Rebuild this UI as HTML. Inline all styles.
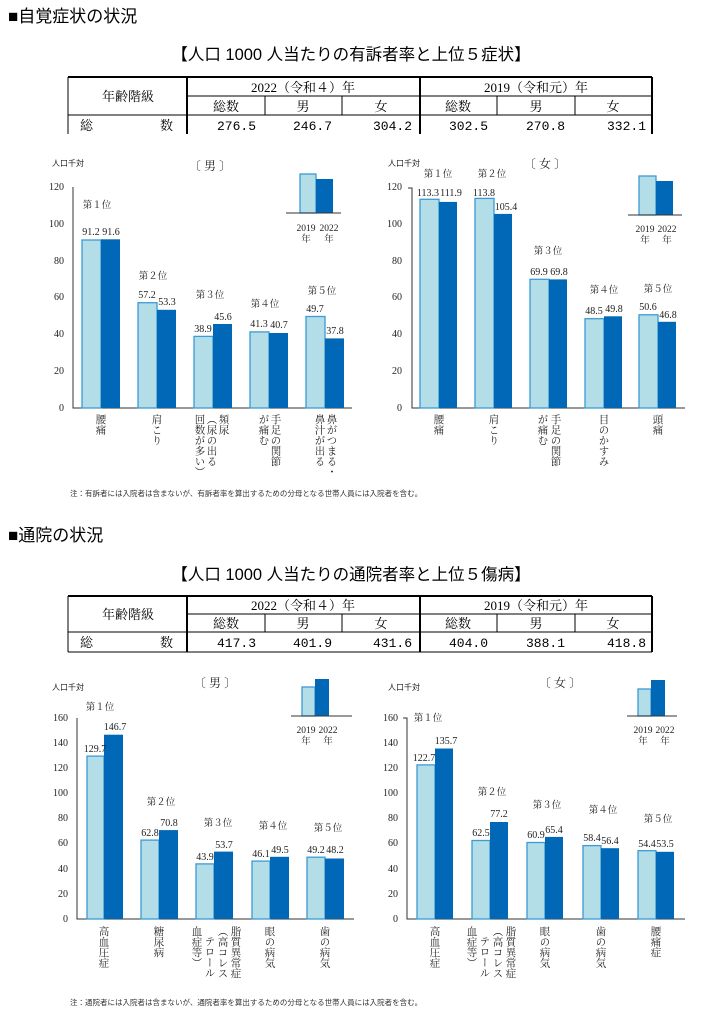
<!DOCTYPE html>
<html><head><meta charset="utf-8"><style>
html,body{margin:0;padding:0;background:#fff;}
svg{display:block;font-family:"Liberation Serif","Noto Serif CJK SC","Noto Sans CJK JP",serif;}
.h{font-family:"Liberation Sans","Noto Sans CJK JP",sans-serif;font-size:17px;fill:#000;}
.t{font-family:"Liberation Sans","Noto Sans CJK JP",sans-serif;font-size:16.5px;fill:#000;}
.tb{font-size:13px;fill:#000;}
.tn{font-family:"Liberation Mono",monospace;font-size:13px;fill:#000;}
.tk{font-size:10px;fill:#222;text-anchor:end;}
.v{font-size:10px;fill:#222;text-anchor:middle;}
.r{font-family:"Liberation Serif","Noto Serif CJK SC",serif;font-size:9.5px;fill:#222;text-anchor:middle;}
.s{font-family:"Noto Sans CJK JP",sans-serif;font-size:8px;fill:#222;}
.g{font-family:"Noto Serif CJK SC","Noto Sans CJK JP",serif;font-size:12px;fill:#222;text-anchor:middle;}
.c{font-family:"Noto Serif CJK SC","Noto Sans CJK JP",serif;font-size:10.5px;fill:#222;writing-mode:vertical-rl;}
.n{font-family:"Noto Sans CJK JP",sans-serif;font-size:7.5px;fill:#333;}
.l{fill:#b3dde7;stroke:#3b9bd6;stroke-width:1.3;}
.d{fill:#0068b7;}
.ax{stroke:#333;stroke-width:1;fill:none;}
.tl{stroke:#000;stroke-width:1;}
.tw{stroke:#000;stroke-width:2;}
</style></head><body>
<svg width="702" height="1024" viewBox="0 0 702 1024" xmlns="http://www.w3.org/2000/svg">
<text class="h" x="8" y="22">■自覚症状の状況</text>
<text class="t" x="351" y="60" text-anchor="middle">【人口 1000 人当たりの有訴者率と上位５症状】</text>
<line class="tw" x1="68" y1="77" x2="652" y2="77"/>
<line class="tl" x1="187" y1="96" x2="652" y2="96"/>
<line class="tl" x1="68" y1="115" x2="652" y2="115"/>
<line class="tl" x1="68" y1="77" x2="68" y2="134"/>
<line class="tw" x1="187" y1="77" x2="187" y2="134"/>
<line class="tl" x1="265" y1="96" x2="265" y2="115"/>
<line class="tl" x1="342" y1="96" x2="342" y2="115"/>
<line class="tw" x1="420" y1="77" x2="420" y2="134"/>
<line class="tl" x1="497" y1="96" x2="497" y2="115"/>
<line class="tl" x1="575" y1="96" x2="575" y2="115"/>
<line class="tw" x1="652" y1="77" x2="652" y2="134"/>
<text class="tb" x="128" y="101" text-anchor="middle">年齢階級</text>
<text class="tb" x="303" y="92" text-anchor="middle">2022（令和４）年</text>
<text class="tb" x="536" y="92" text-anchor="middle">2019（令和元）年</text>
<text class="tb" x="226" y="111" text-anchor="middle">総数</text><text class="tb" x="303" y="111" text-anchor="middle">男</text><text class="tb" x="381" y="111" text-anchor="middle">女</text>
<text class="tb" x="458" y="111" text-anchor="middle">総数</text><text class="tb" x="536" y="111" text-anchor="middle">男</text><text class="tb" x="613" y="111" text-anchor="middle">女</text>
<text class="tb" x="80" y="130">総</text><text class="tb" x="160" y="130">数</text>
<g class="tn" text-anchor="end"><text x="256" y="130">276.5</text><text x="332" y="130">246.7</text><text x="412" y="130">304.2</text><text x="488" y="130">302.5</text><text x="565" y="130">270.8</text><text x="646" y="130">332.1</text></g>

<text class="s" x="52" y="166">人口千対</text>
<text class="g" x="210" y="170">〔 男 〕</text>
<polyline class="ax" points="73,187 73,408 352,408"/>
<g class="tk"><text x="64" y="411">0</text><text x="64" y="374">20</text><text x="64" y="337">40</text><text x="64" y="300">60</text><text x="64" y="264">80</text><text x="64" y="227">100</text><text x="64" y="190">120</text></g>
<rect class="l" x="82" y="240" width="19" height="168"/><rect class="d" x="101" y="239.3" width="19" height="168.7"/>
<rect class="l" x="138" y="302.7" width="19" height="105.3"/><rect class="d" x="157" y="309.8" width="19" height="98.2"/>
<rect class="l" x="194" y="336.4" width="19" height="71.6"/><rect class="d" x="213" y="324" width="19" height="84"/>
<rect class="l" x="250" y="331.9" width="19" height="76.1"/><rect class="d" x="269" y="333" width="19" height="75"/>
<rect class="l" x="306" y="316.5" width="19" height="91.5"/><rect class="d" x="325" y="338.4" width="19" height="69.6"/>
<g class="v"><text x="91" y="235">91.2</text><text x="111" y="235">91.6</text>
<text x="147" y="298">57.2</text><text x="167" y="305">53.3</text>
<text x="203" y="332">38.9</text><text x="223" y="320">45.6</text>
<text x="259" y="327">41.3</text><text x="279" y="328">40.7</text>
<text x="315" y="312">49.7</text><text x="335" y="334">37.8</text></g>
<g class="r"><text x="97" y="208">第１位</text><text x="153" y="279">第２位</text><text x="210" y="298">第３位</text><text x="265" y="307">第４位</text><text x="322" y="294">第５位</text></g>
<text class="c" x="101" y="414">腰痛</text>
<text class="c" x="157" y="414">肩こり</text>
<text class="c" x="224" y="414">頻尿</text><text class="c" x="212" y="414">（尿の出る</text><text class="c" x="200" y="414">回数が多い）</text>
<text class="c" x="276" y="414">手足の関節</text><text class="c" x="264" y="414">が痛む</text>
<text class="c" x="332" y="414">鼻がつまる・</text><text class="c" x="320" y="414">鼻汁が出る</text>
<rect class="l" x="300" y="174" width="16" height="39"/><rect class="d" x="316" y="179" width="17" height="34"/>
<line class="ax" x1="286" y1="213" x2="341" y2="213"/>
<g class="r"><text x="306" y="231">2019</text><text x="329" y="231">2022</text><text x="306" y="242">年</text><text x="329" y="242">年</text></g>

<text class="s" x="388" y="166">人口千対</text>
<text class="g" x="545" y="168">〔 女 〕</text>
<polyline class="ax" points="408,188 412,188 412,408 685,408"/>
<g class="tk"><text x="402" y="411">0</text><text x="402" y="374">20</text><text x="402" y="337">40</text><text x="402" y="300">60</text><text x="402" y="264">80</text><text x="402" y="227">100</text><text x="402" y="190">120</text></g>
<rect class="l" x="420" y="199.3" width="19" height="208.7"/><rect class="d" x="439" y="201.9" width="18" height="206.1"/>
<rect class="l" x="475" y="198.4" width="19" height="209.6"/><rect class="d" x="494" y="213.9" width="18" height="194.1"/>
<rect class="l" x="530" y="279.3" width="19" height="128.7"/><rect class="d" x="549" y="279.4" width="18" height="128.6"/>
<rect class="l" x="585" y="318.7" width="19" height="89.3"/><rect class="d" x="604" y="316.3" width="18" height="91.7"/>
<rect class="l" x="639" y="314.8" width="19" height="93.2"/><rect class="d" x="658" y="321.8" width="18" height="86.2"/>
<g class="v"><text x="428" y="196">113.3</text><text x="451" y="196">111.9</text>
<text x="484" y="196">113.8</text><text x="506" y="210">105.4</text>
<text x="539" y="275">69.9</text><text x="559" y="275">69.8</text>
<text x="594" y="314">48.5</text><text x="614" y="312">49.8</text>
<text x="648" y="310">50.6</text><text x="668" y="318">46.8</text></g>
<g class="r"><text x="438" y="177">第１位</text><text x="492" y="177">第２位</text><text x="548" y="254">第３位</text><text x="604" y="293">第４位</text><text x="658" y="292">第５位</text></g>
<text class="c" x="439" y="414">腰痛</text>
<text class="c" x="494" y="414">肩こり</text>
<text class="c" x="556" y="414">手足の関節</text><text class="c" x="543" y="414">が痛む</text>
<text class="c" x="604" y="414">目のかすみ</text>
<text class="c" x="658" y="414">頭痛</text>
<rect class="l" x="639" y="176" width="17" height="39"/><rect class="d" x="656" y="181" width="17" height="34"/>
<line class="ax" x1="628" y1="215" x2="682" y2="215"/>
<g class="r"><text x="645" y="232">2019</text><text x="667" y="232">2022</text><text x="645" y="243">年</text><text x="667" y="243">年</text></g>

<text class="n" x="70" y="496">注：有訴者には入院者は含まないが、有訴者率を算出するための分母となる世帯人員には入院者を含む。</text>

<text class="h" x="8" y="541">■通院の状況</text>
<text class="t" x="351" y="580" text-anchor="middle">【人口 1000 人当たりの通院者率と上位５傷病】</text>
<line class="tw" x1="68" y1="596" x2="652" y2="596"/>
<line class="tl" x1="187" y1="614" x2="652" y2="614"/>
<line class="tl" x1="68" y1="632" x2="652" y2="632"/>
<line class="tl" x1="68" y1="596" x2="68" y2="652"/>
<line class="tw" x1="187" y1="596" x2="187" y2="652"/>
<line class="tl" x1="265" y1="614" x2="265" y2="632"/>
<line class="tl" x1="342" y1="614" x2="342" y2="632"/>
<line class="tw" x1="420" y1="596" x2="420" y2="652"/>
<line class="tl" x1="497" y1="614" x2="497" y2="632"/>
<line class="tl" x1="575" y1="614" x2="575" y2="632"/>
<line class="tw" x1="652" y1="596" x2="652" y2="652"/>
<line class="tl" x1="68" y1="652" x2="652" y2="652"/>
<text class="tb" x="128" y="619" text-anchor="middle">年齢階級</text>
<text class="tb" x="303" y="610" text-anchor="middle">2022（令和４）年</text>
<text class="tb" x="536" y="610" text-anchor="middle">2019（令和元）年</text>
<text class="tb" x="226" y="628" text-anchor="middle">総数</text><text class="tb" x="303" y="628" text-anchor="middle">男</text><text class="tb" x="381" y="628" text-anchor="middle">女</text>
<text class="tb" x="458" y="628" text-anchor="middle">総数</text><text class="tb" x="536" y="628" text-anchor="middle">男</text><text class="tb" x="613" y="628" text-anchor="middle">女</text>
<text class="tb" x="80" y="647">総</text><text class="tb" x="160" y="647">数</text>
<g class="tn" text-anchor="end"><text x="256" y="647">417.3</text><text x="332" y="647">401.9</text><text x="412" y="647">431.6</text><text x="488" y="647">404.0</text><text x="565" y="647">388.1</text><text x="646" y="647">418.8</text></g>

<text class="s" x="52" y="690">人口千対</text>
<text class="g" x="215" y="687">〔 男 〕</text>
<polyline class="ax" points="77,718 77,919 354,919"/>
<g class="tk"><text x="68" y="922">0</text><text x="68" y="897">20</text><text x="68" y="872">40</text><text x="68" y="846">60</text><text x="68" y="821">80</text><text x="68" y="796">100</text><text x="68" y="771">120</text><text x="68" y="746">140</text><text x="68" y="721">160</text></g>
<rect class="l" x="87" y="756.1" width="17" height="162.9"/><rect class="d" x="104" y="734.7" width="19" height="184.3"/>
<rect class="l" x="141" y="840.1" width="18" height="78.9"/><rect class="d" x="159" y="830.1" width="19" height="88.9"/>
<rect class="l" x="196" y="863.9" width="18" height="55.1"/><rect class="d" x="214" y="851.6" width="19" height="67.4"/>
<rect class="l" x="252" y="861.1" width="18" height="57.9"/><rect class="d" x="270" y="856.8" width="19" height="62.2"/>
<rect class="l" x="307" y="857.2" width="18" height="61.8"/><rect class="d" x="325" y="858.5" width="19" height="60.5"/>
<g class="v"><text x="95" y="752">129.7</text><text x="115" y="730">146.7</text>
<text x="150" y="836">62.8</text><text x="169" y="826">70.8</text>
<text x="205" y="860">43.9</text><text x="224" y="848">53.7</text>
<text x="261" y="857">46.1</text><text x="280" y="853">49.5</text>
<text x="316" y="853">49.2</text><text x="335" y="853">48.2</text></g>
<g class="r"><text x="100" y="710">第１位</text><text x="161" y="805">第２位</text><text x="218" y="826">第３位</text><text x="273" y="829">第４位</text><text x="328" y="831">第５位</text></g>
<text class="c" x="104" y="926">高血圧症</text>
<text class="c" x="159" y="926">糖尿病</text>
<text class="c" x="236" y="926">脂質異常症</text><text class="c" x="223" y="926">（高コレス</text><text class="c" x="210" y="936">テロール</text><text class="c" x="197" y="926">血症等）</text>
<text class="c" x="270" y="926">眼の病気</text>
<text class="c" x="325" y="926">歯の病気</text>
<rect class="l" x="302" y="687" width="13" height="29"/><rect class="d" x="315" y="679" width="14" height="37"/>
<line class="ax" x1="291" y1="716" x2="352" y2="716"/>
<g class="r"><text x="306" y="733">2019</text><text x="328" y="733">2022</text><text x="306" y="744">年</text><text x="328" y="744">年</text></g>

<text class="s" x="388" y="690">人口千対</text>
<text class="g" x="560" y="687">〔 女 〕</text>
<polyline class="ax" points="403,718 407,718 407,919 685,919"/>
<g class="tk"><text x="398" y="922">0</text><text x="398" y="897">20</text><text x="398" y="872">40</text><text x="398" y="846">60</text><text x="398" y="821">80</text><text x="398" y="796">100</text><text x="398" y="771">120</text><text x="398" y="746">140</text><text x="398" y="721">160</text></g>
<rect class="l" x="417" y="764.9" width="18" height="154.1"/><rect class="d" x="435" y="748.5" width="18" height="170.5"/>
<rect class="l" x="472" y="840.5" width="18" height="78.5"/><rect class="d" x="490" y="822" width="18" height="97"/>
<rect class="l" x="527" y="842.5" width="18" height="76.5"/><rect class="d" x="545" y="836.9" width="18" height="82.1"/>
<rect class="l" x="583" y="845.6" width="18" height="73.4"/><rect class="d" x="601" y="848.2" width="18" height="70.8"/>
<rect class="l" x="638" y="850.7" width="18" height="68.3"/><rect class="d" x="656" y="851.8" width="18" height="67.2"/>
<g class="v"><text x="424" y="761">122.7</text><text x="446" y="744">135.7</text>
<text x="481" y="836">62.5</text><text x="499" y="817">77.2</text>
<text x="536" y="838">60.9</text><text x="554" y="833">65.4</text>
<text x="592" y="841">58.4</text><text x="610" y="844">56.4</text>
<text x="647" y="847">54.4</text><text x="665" y="847">53.5</text></g>
<g class="r"><text x="428" y="721">第１位</text><text x="492" y="795">第２位</text><text x="547" y="808">第３位</text><text x="603" y="813">第４位</text><text x="658" y="822">第５位</text></g>
<text class="c" x="435" y="926">高血圧症</text>
<text class="c" x="511" y="926">脂質異常症</text><text class="c" x="498" y="926">（高コレス</text><text class="c" x="485" y="936">テロール</text><text class="c" x="472" y="926">血症等）</text>
<text class="c" x="545" y="926">眼の病気</text>
<text class="c" x="601" y="926">歯の病気</text>
<text class="c" x="656" y="926">腰痛症</text>
<rect class="l" x="638" y="689" width="13" height="27"/><rect class="d" x="651" y="680" width="14" height="36"/>
<line class="ax" x1="627" y1="716" x2="677" y2="716"/>
<g class="r"><text x="643" y="733">2019</text><text x="665" y="733">2022</text><text x="643" y="744">年</text><text x="665" y="744">年</text></g>

<text class="n" x="70" y="1005">注：通院者には入院者は含まないが、通院者率を算出するための分母となる世帯人員には入院者を含む。</text>
</svg>
</body></html>
